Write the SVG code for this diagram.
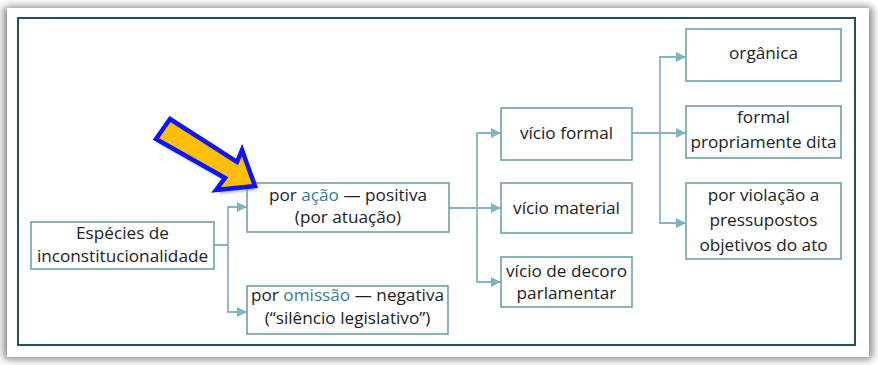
<svg xmlns="http://www.w3.org/2000/svg" width="878" height="365" viewBox="0 0 878 365">
  <defs>
    <filter id="cardShadow" x="-5%" y="-5%" width="110%" height="110%">
      <feGaussianBlur stdDeviation="4"/>
    </filter>
    <filter id="arrowShadow" x="-20%" y="-20%" width="140%" height="140%">
      <feGaussianBlur stdDeviation="1.5"/>
    </filter>
    <marker id="ah" viewBox="0 0 10 10" refX="10" refY="5" markerWidth="10" markerHeight="10" markerUnits="userSpaceOnUse" orient="auto">
      <path d="M0,0 L10,5 L0,10 z" fill="#7fb2c6"/>
    </marker>
    <style>
      .box { fill: #ffffff; stroke: #6fa0ae; stroke-width: 1.6; }
      .conn { fill: none; stroke: #86b4c6; stroke-width: 1.8; marker-end: url(#ah); }
      .t { font-family: "Open Sans", "Noto Sans", sans-serif; font-size: 17.2px; fill: #222222; text-anchor: middle; }
      .hl { fill: #3d7b8c; }
    </style>
  </defs>

  <rect x="0" y="0" width="878" height="365" fill="#ffffff"/>
  <rect x="4" y="7" width="868" height="352" fill="#7a7a7a" filter="url(#cardShadow)"/>
  <rect x="7" y="8" width="862" height="349" fill="#ffffff"/>
  <rect x="18" y="18" width="837" height="327" fill="none" stroke="#24525c" stroke-width="2"/>

  <g id="connectors">
    <path class="conn" d="M214,245 H228 V207 H247"/>
    <path class="conn" d="M228,245 V312 H247"/>
    <path class="conn" d="M449,208 H501"/>
    <path class="conn" d="M477,208 V133 H501"/>
    <path class="conn" d="M477,208 V282 H501"/>
    <path class="conn" d="M632,133 H686"/>
    <path class="conn" d="M660,133 V57 H686"/>
    <path class="conn" d="M660,133 V223 H686"/>
  </g>

  <g id="especies">
    <rect class="box" x="31" y="222" width="183" height="47"/>
    <text class="t" x="122.5" y="239">Espécies de</text>
    <text class="t" x="122.5" y="262">inconstitucionalidade</text>
  </g>

  <g id="positiva">
    <rect class="box" x="247" y="183" width="202" height="49"/>
    <text class="t" x="348" y="201">por <tspan class="hl">ação</tspan> — positiva</text>
    <text class="t" x="348" y="223">(por atuação)</text>
  </g>

  <g id="negativa">
    <rect class="box" x="247" y="286" width="201" height="48"/>
    <text class="t" x="347.5" y="301">por <tspan class="hl">omissão</tspan> — negativa</text>
    <text class="t" x="347.5" y="324">(“silêncio legislativo”)</text>
  </g>

  <g id="vicio-formal">
    <rect class="box" x="501" y="108" width="131" height="52"/>
    <text class="t" x="566.5" y="139">vício formal</text>
  </g>

  <g id="vicio-material">
    <rect class="box" x="501" y="183" width="131" height="50"/>
    <text class="t" x="566.5" y="214">vício material</text>
  </g>

  <g id="vicio-decoro">
    <rect class="box" x="501" y="257" width="131" height="50"/>
    <text class="t" x="566.5" y="277">vício de decoro</text>
    <text class="t" x="566.5" y="299">parlamentar</text>
  </g>

  <g id="organica">
    <rect class="box" x="686" y="29" width="155" height="52"/>
    <text class="t" x="763.5" y="59">orgânica</text>
  </g>

  <g id="formal-propriamente">
    <rect class="box" x="686" y="106" width="155" height="52"/>
    <text class="t" x="763.5" y="123">formal</text>
    <text class="t" x="763.5" y="148">propriamente dita</text>
  </g>

  <g id="violacao">
    <rect class="box" x="686" y="183" width="155" height="76"/>
    <text class="t" x="763.5" y="201">por violação a</text>
    <text class="t" x="763.5" y="226">pressupostos</text>
    <text class="t" x="763.5" y="251">objetivos do ato</text>
  </g>

  <g id="pointer-arrow">
    <polygon points="170,119 237,162 242,150 255,186 216,190 225,178 156,139" transform="translate(2,4)" fill="#a89a80" opacity="0.7" filter="url(#arrowShadow)"/>
    <polygon points="170,119 237,162 242,150 255,186 216,190 225,178 156,139" fill="#ffbf00" stroke="#0a14ff" stroke-width="4.5" stroke-linejoin="miter"/>
  </g>
</svg>
